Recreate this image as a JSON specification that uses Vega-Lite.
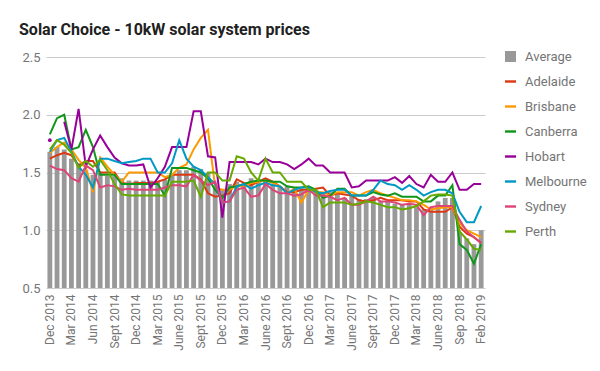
{
  "$schema": "https://vega.github.io/schema/vega-lite/v6.json",
  "width": 439,
  "height": 231,
  "autosize": {"type": "none"},
  "padding": {"left": 46, "top": 57, "right": 115, "bottom": 83},
  "background": "white",
  "title": {
    "text": "Solar Choice - 10kW solar system prices",
    "anchor": "start",
    "frame": "group",
    "dx": -27,
    "offset": 12,
    "font": "Roboto",
    "fontSize": 16,
    "fontWeight": "bold",
    "color": "#212121"
  },
  "config": {
    "view": {"stroke": null},
    "font": "Roboto",
    "axis": {"labelFont": "Roboto", "labelColor": "#757575", "domain": false, "ticks": false}
  },
  "data": {
    "values": [
      {"m": "Dec 2013", "Average": 1.68, "Adelaide": 1.62, "Brisbane": 1.67, "Canberra": 1.83, "Hobart": 1.78, "Melbourne": 1.68, "Sydney": 1.56, "Perth": 1.70},
      {"m": "Jan 2014", "Average": 1.72, "Adelaide": 1.65, "Brisbane": 1.72, "Canberra": 1.97, "Hobart": null, "Melbourne": 1.78, "Sydney": 1.53, "Perth": 1.78},
      {"m": "Feb 2014", "Average": 1.70, "Adelaide": 1.67, "Brisbane": 1.76, "Canberra": 2.00, "Hobart": 1.94, "Melbourne": 1.80, "Sydney": 1.52, "Perth": 1.74},
      {"m": "Mar 2014", "Average": 1.62, "Adelaide": 1.65, "Brisbane": 1.70, "Canberra": 1.70, "Hobart": 1.70, "Melbourne": 1.68, "Sydney": 1.45, "Perth": 1.67},
      {"m": "Apr 2014", "Average": 1.58, "Adelaide": 1.56, "Brisbane": 1.61, "Canberra": 1.72, "Hobart": 2.05, "Melbourne": 1.55, "Sydney": 1.42, "Perth": 1.54},
      {"m": "May 2014", "Average": 1.52, "Adelaide": 1.60, "Brisbane": 1.54, "Canberra": 1.87, "Hobart": 1.55, "Melbourne": 1.48, "Sydney": 1.56, "Perth": 1.60},
      {"m": "Jun 2014", "Average": 1.48, "Adelaide": 1.60, "Brisbane": 1.33, "Canberra": 1.72, "Hobart": 1.70, "Melbourne": 1.37, "Sydney": 1.52, "Perth": 1.55},
      {"m": "Jul 2014", "Average": 1.50, "Adelaide": 1.50, "Brisbane": 1.63, "Canberra": 1.48, "Hobart": 1.82, "Melbourne": 1.62, "Sydney": 1.37, "Perth": 1.61},
      {"m": "Aug 2014", "Average": 1.47, "Adelaide": 1.50, "Brisbane": 1.55, "Canberra": 1.48, "Hobart": 1.72, "Melbourne": 1.62, "Sydney": 1.39, "Perth": 1.52},
      {"m": "Sept 2014", "Average": 1.47, "Adelaide": 1.50, "Brisbane": 1.48, "Canberra": 1.48, "Hobart": 1.63, "Melbourne": 1.60, "Sydney": 1.38, "Perth": 1.40},
      {"m": "Oct 2014", "Average": 1.45, "Adelaide": 1.41, "Brisbane": 1.42, "Canberra": 1.40, "Hobart": 1.58, "Melbourne": 1.58, "Sydney": 1.35, "Perth": 1.31},
      {"m": "Nov 2014", "Average": 1.43, "Adelaide": 1.40, "Brisbane": 1.50, "Canberra": 1.40, "Hobart": 1.56, "Melbourne": 1.59, "Sydney": 1.36, "Perth": 1.30},
      {"m": "Dec 2014", "Average": 1.43, "Adelaide": 1.41, "Brisbane": 1.50, "Canberra": 1.40, "Hobart": 1.56, "Melbourne": 1.60, "Sydney": 1.35, "Perth": 1.30},
      {"m": "Jan 2015", "Average": 1.43, "Adelaide": 1.41, "Brisbane": 1.50, "Canberra": 1.40, "Hobart": 1.57, "Melbourne": 1.62, "Sydney": 1.35, "Perth": 1.30},
      {"m": "Feb 2015", "Average": 1.43, "Adelaide": 1.41, "Brisbane": 1.50, "Canberra": 1.40, "Hobart": 1.37, "Melbourne": 1.62, "Sydney": 1.35, "Perth": 1.30},
      {"m": "Mar 2015", "Average": 1.42, "Adelaide": 1.42, "Brisbane": 1.50, "Canberra": 1.40, "Hobart": 1.45, "Melbourne": 1.50, "Sydney": 1.35, "Perth": 1.30},
      {"m": "Apr 2015", "Average": 1.44, "Adelaide": 1.44, "Brisbane": 1.46, "Canberra": 1.30, "Hobart": 1.55, "Melbourne": 1.50, "Sydney": 1.37, "Perth": 1.30},
      {"m": "May 2015", "Average": 1.48, "Adelaide": 1.48, "Brisbane": 1.48, "Canberra": 1.54, "Hobart": 1.72, "Melbourne": 1.58, "Sydney": 1.39, "Perth": 1.42},
      {"m": "June 2015", "Average": 1.52, "Adelaide": 1.48, "Brisbane": 1.54, "Canberra": 1.54, "Hobart": 1.72, "Melbourne": 1.78, "Sydney": 1.39, "Perth": 1.42},
      {"m": "July 2015", "Average": 1.52, "Adelaide": 1.48, "Brisbane": 1.57, "Canberra": 1.54, "Hobart": 1.72, "Melbourne": 1.62, "Sydney": 1.38, "Perth": 1.42},
      {"m": "Aug 2015", "Average": 1.55, "Adelaide": 1.48, "Brisbane": 1.70, "Canberra": 1.52, "Hobart": 2.03, "Melbourne": 1.55, "Sydney": 1.48, "Perth": 1.43},
      {"m": "Sept 2015", "Average": 1.53, "Adelaide": 1.44, "Brisbane": 1.80, "Canberra": 1.50, "Hobart": 2.03, "Melbourne": 1.52, "Sydney": 1.43, "Perth": 1.29},
      {"m": "Oct 2015", "Average": 1.50, "Adelaide": 1.32, "Brisbane": 1.87, "Canberra": 1.45, "Hobart": 1.64, "Melbourne": 1.46, "Sydney": 1.39, "Perth": 1.50},
      {"m": "Nov 2015", "Average": 1.38, "Adelaide": 1.29, "Brisbane": 1.37, "Canberra": 1.35, "Hobart": 1.63, "Melbourne": 1.40, "Sydney": 1.42, "Perth": 1.50},
      {"m": "Dec 2015", "Average": 1.35, "Adelaide": 1.30, "Brisbane": 1.35, "Canberra": 1.28, "Hobart": 1.11, "Melbourne": 1.24, "Sydney": 1.24, "Perth": 1.43},
      {"m": "Jan 2016", "Average": 1.40, "Adelaide": 1.32, "Brisbane": 1.35, "Canberra": 1.37, "Hobart": 1.59, "Melbourne": 1.25, "Sydney": 1.25, "Perth": 1.43},
      {"m": "Feb 2016", "Average": 1.42, "Adelaide": 1.44, "Brisbane": 1.39, "Canberra": 1.38, "Hobart": 1.59, "Melbourne": 1.38, "Sydney": 1.35, "Perth": 1.64},
      {"m": "Mar 2016", "Average": 1.40, "Adelaide": 1.41, "Brisbane": 1.38, "Canberra": 1.40, "Hobart": 1.59, "Melbourne": 1.40, "Sydney": 1.37, "Perth": 1.62},
      {"m": "Apr 2016", "Average": 1.45, "Adelaide": 1.39, "Brisbane": 1.41, "Canberra": 1.42, "Hobart": 1.59, "Melbourne": 1.36, "Sydney": 1.29, "Perth": 1.50},
      {"m": "May 2016", "Average": 1.42, "Adelaide": 1.42, "Brisbane": 1.42, "Canberra": 1.43, "Hobart": 1.57, "Melbourne": 1.39, "Sydney": 1.30, "Perth": 1.43},
      {"m": "June 2016", "Average": 1.45, "Adelaide": 1.45, "Brisbane": 1.43, "Canberra": 1.43, "Hobart": 1.62, "Melbourne": 1.41, "Sydney": 1.40, "Perth": 1.62},
      {"m": "July 2016", "Average": 1.40, "Adelaide": 1.42, "Brisbane": 1.41, "Canberra": 1.42, "Hobart": 1.59, "Melbourne": 1.39, "Sydney": 1.35, "Perth": 1.50},
      {"m": "Aug 2016", "Average": 1.38, "Adelaide": 1.38, "Brisbane": 1.38, "Canberra": 1.42, "Hobart": 1.59, "Melbourne": 1.38, "Sydney": 1.32, "Perth": 1.50},
      {"m": "Sept 2016", "Average": 1.38, "Adelaide": 1.33, "Brisbane": 1.32, "Canberra": 1.38, "Hobart": 1.57, "Melbourne": 1.32, "Sydney": 1.32, "Perth": 1.42},
      {"m": "Oct 2016", "Average": 1.36, "Adelaide": 1.33, "Brisbane": 1.36, "Canberra": 1.37, "Hobart": 1.53, "Melbourne": 1.35, "Sydney": 1.30, "Perth": 1.42},
      {"m": "Nov 2016", "Average": 1.35, "Adelaide": 1.35, "Brisbane": 1.24, "Canberra": 1.37, "Hobart": 1.57, "Melbourne": 1.37, "Sydney": 1.31, "Perth": 1.42},
      {"m": "Dec 2016", "Average": 1.35, "Adelaide": 1.35, "Brisbane": 1.35, "Canberra": 1.38, "Hobart": 1.62, "Melbourne": 1.37, "Sydney": 1.35, "Perth": 1.35},
      {"m": "Jan 2017", "Average": 1.33, "Adelaide": 1.36, "Brisbane": 1.33, "Canberra": 1.35, "Hobart": 1.56, "Melbourne": 1.33, "Sydney": 1.30, "Perth": 1.35},
      {"m": "Feb 2017", "Average": 1.32, "Adelaide": 1.37, "Brisbane": 1.33, "Canberra": 1.28, "Hobart": 1.56, "Melbourne": 1.32, "Sydney": 1.30, "Perth": 1.20},
      {"m": "Mar 2017", "Average": 1.33, "Adelaide": 1.30, "Brisbane": 1.30, "Canberra": 1.30, "Hobart": 1.50, "Melbourne": 1.34, "Sydney": 1.29, "Perth": 1.24},
      {"m": "Apr 2017", "Average": 1.32, "Adelaide": 1.32, "Brisbane": 1.33, "Canberra": 1.36, "Hobart": 1.50, "Melbourne": 1.35, "Sydney": 1.26, "Perth": 1.24},
      {"m": "May 2017", "Average": 1.28, "Adelaide": 1.31, "Brisbane": 1.33, "Canberra": 1.36, "Hobart": 1.50, "Melbourne": 1.35, "Sydney": 1.28, "Perth": 1.24},
      {"m": "June 2017", "Average": 1.30, "Adelaide": 1.30, "Brisbane": 1.33, "Canberra": 1.30, "Hobart": 1.37, "Melbourne": 1.30, "Sydney": 1.22, "Perth": 1.22},
      {"m": "July 2017", "Average": 1.27, "Adelaide": 1.26, "Brisbane": 1.30, "Canberra": 1.30, "Hobart": 1.38, "Melbourne": 1.30, "Sydney": 1.22, "Perth": 1.23},
      {"m": "Aug 2017", "Average": 1.27, "Adelaide": 1.25, "Brisbane": 1.33, "Canberra": 1.30, "Hobart": 1.43, "Melbourne": 1.30, "Sydney": 1.25, "Perth": 1.25},
      {"m": "Sept 2017", "Average": 1.28, "Adelaide": 1.26, "Brisbane": 1.35, "Canberra": 1.33, "Hobart": 1.43, "Melbourne": 1.35, "Sydney": 1.29, "Perth": 1.24},
      {"m": "Oct 2017", "Average": 1.25, "Adelaide": 1.28, "Brisbane": 1.32, "Canberra": 1.31, "Hobart": 1.43, "Melbourne": 1.43, "Sydney": 1.25, "Perth": 1.22},
      {"m": "Nov 2017", "Average": 1.25, "Adelaide": 1.26, "Brisbane": 1.30, "Canberra": 1.30, "Hobart": 1.43, "Melbourne": 1.40, "Sydney": 1.25, "Perth": 1.20},
      {"m": "Dec 2017", "Average": 1.23, "Adelaide": 1.26, "Brisbane": 1.28, "Canberra": 1.32, "Hobart": 1.46, "Melbourne": 1.39, "Sydney": 1.24, "Perth": 1.20},
      {"m": "Jan 2018", "Average": 1.22, "Adelaide": 1.26, "Brisbane": 1.26, "Canberra": 1.29, "Hobart": 1.41, "Melbourne": 1.35, "Sydney": 1.22, "Perth": 1.18},
      {"m": "Feb 2018", "Average": 1.22, "Adelaide": 1.25, "Brisbane": 1.26, "Canberra": 1.29, "Hobart": 1.47, "Melbourne": 1.39, "Sydney": 1.23, "Perth": 1.19},
      {"m": "Mar 2018", "Average": 1.20, "Adelaide": 1.25, "Brisbane": 1.25, "Canberra": 1.29, "Hobart": 1.40, "Melbourne": 1.35, "Sydney": 1.22, "Perth": 1.21},
      {"m": "Apr 2018", "Average": 1.18, "Adelaide": 1.18, "Brisbane": 1.22, "Canberra": 1.25, "Hobart": 1.37, "Melbourne": 1.30, "Sydney": 1.13, "Perth": 1.25},
      {"m": "May 2018", "Average": 1.20, "Adelaide": 1.16, "Brisbane": 1.18, "Canberra": 1.25, "Hobart": 1.48, "Melbourne": 1.33, "Sydney": 1.20, "Perth": 1.30},
      {"m": "June 2018", "Average": 1.25, "Adelaide": 1.16, "Brisbane": 1.19, "Canberra": 1.30, "Hobart": 1.42, "Melbourne": 1.35, "Sydney": 1.21, "Perth": 1.31},
      {"m": "July 2018", "Average": 1.28, "Adelaide": 1.16, "Brisbane": 1.20, "Canberra": 1.30, "Hobart": 1.42, "Melbourne": 1.35, "Sydney": 1.21, "Perth": 1.31},
      {"m": "Aug 2018", "Average": 1.28, "Adelaide": 1.20, "Brisbane": 1.20, "Canberra": 1.39, "Hobart": 1.50, "Melbourne": 1.32, "Sydney": 1.21, "Perth": 1.30},
      {"m": "Sep 2018", "Average": 0.98, "Adelaide": 1.03, "Brisbane": 1.06, "Canberra": 0.88, "Hobart": 1.35, "Melbourne": 1.16, "Sydney": 1.09, "Perth": 0.99},
      {"m": "Oct 2018", "Average": 0.93, "Adelaide": 0.97, "Brisbane": 1.00, "Canberra": 0.83, "Hobart": 1.35, "Melbourne": 1.07, "Sydney": 0.99, "Perth": 0.92},
      {"m": "Dec 2018", "Average": 0.88, "Adelaide": 0.94, "Brisbane": 0.97, "Canberra": 0.71, "Hobart": 1.40, "Melbourne": 1.07, "Sydney": 0.94, "Perth": 0.84},
      {"m": "Feb 2019", "Average": 1.00, "Adelaide": 0.89, "Brisbane": 0.94, "Canberra": 0.88, "Hobart": 1.40, "Melbourne": 1.21, "Sydney": 0.89, "Perth": 0.83}
    ]
  },
  "encoding": {
    "x": {
      "field": "m",
      "type": "ordinal",
      "sort": null,
      "scale": {"paddingInner": 0.33, "paddingOuter": 0.2},
      "axis": {
        "title": null,
        "labelAngle": -90,
        "labelFontSize": 12,
        "labelPadding": 6,
        "grid": false,
        "values": ["Dec 2013", "Mar 2014", "Jun 2014", "Sept 2014", "Dec 2014", "Mar 2015", "June 2015", "Sept 2015", "Dec 2015", "Mar 2016", "June 2016", "Sept 2016", "Dec 2016", "Mar 2017", "June 2017", "Sept 2017", "Dec 2017", "Mar 2018", "June 2018", "Sep 2018", "Feb 2019"]
      }
    }
  },
  "layer": [
    {
      "mark": {"type": "bar", "color": "#999999"},
      "encoding": {
        "y": {
          "field": "Average",
          "type": "quantitative",
          "scale": {"domain": [0.5, 2.5], "zero": false, "nice": false},
          "axis": {
            "title": null,
            "values": [0.5, 1, 1.5, 2, 2.5],
            "format": ".1f",
            "labelFontSize": 13,
            "labelPadding": 6,
            "gridColor": "#cccccc",
            "gridWidth": 1
          }
        },
        "y2": {"datum": 0.5},
        "color": {"datum": "Average", "type": "nominal"}
      }
    },
    {
      "transform": [
        {"fold": ["Adelaide", "Brisbane", "Canberra", "Hobart", "Melbourne", "Sydney", "Perth"], "as": ["key", "value"]}
      ],
      "mark": {"type": "line", "strokeWidth": 2, "invalid": "break-paths-show-domains"},
      "encoding": {
        "y": {"field": "value", "type": "quantitative"},
        "detail": {"field": "key"},
        "color": {
          "field": "key",
          "type": "nominal",
          "scale": {
            "domain": ["Average", "Adelaide", "Brisbane", "Canberra", "Hobart", "Melbourne", "Sydney", "Perth"],
            "range": ["#999999", "#dc3912", "#ff9900", "#109618", "#990099", "#0099c6", "#dd4477", "#66aa00"]
          },
          "legend": {
            "title": null,
            "orient": "none",
            "legendX": 458,
            "legendY": -7,
            "padding": 0,
            "labelFont": "Roboto",
            "labelFontSize": 13,
            "labelColor": "#757575",
            "labelOffset": 8,
            "rowPadding": 11,
            "symbolSize": 121,
            "encode": {
              "symbols": {
                "update": {
                  "shape": {"signal": "datum.value === 'Average' ? 'square' : 'M-1,-0.22H1V0.22H-1Z'"},
                  "fill": {"signal": "scale('color', datum.value)"},
                  "stroke": {"value": "transparent"},
                  "strokeWidth": {"value": 0},
                  "opacity": {"value": 1},
                  "fillOpacity": {"value": 1}
                }
              }
            }
          }
        }
      }
    },
    {
      "transform": [
        {"fold": ["Hobart"], "as": ["key", "value"]},
        {"filter": "datum.m === 'Dec 2013'"}
      ],
      "mark": {"type": "point", "filled": true, "size": 14, "opacity": 1},
      "encoding": {
        "y": {"field": "value", "type": "quantitative"},
        "color": {"field": "key", "type": "nominal"}
      }
    }
  ]
}
